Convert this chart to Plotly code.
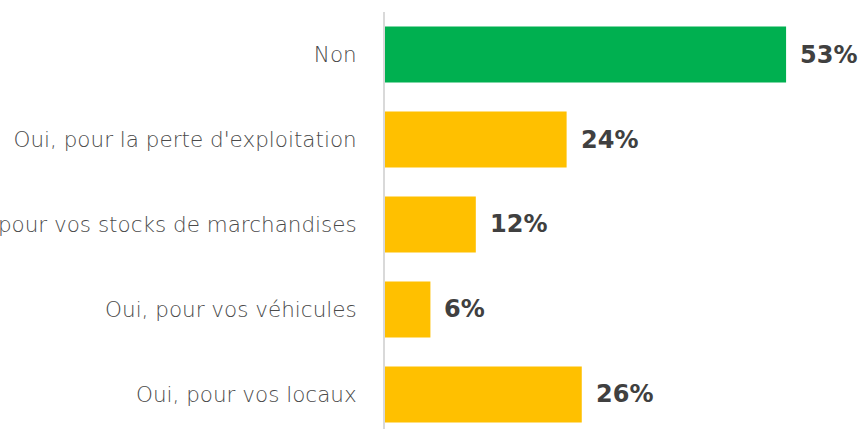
import plotly.graph_objects as go

categories = [
    "Oui, pour vos locaux",
    "Oui, pour vos véhicules",
    "Oui, pour vos stocks de marchandises",
    "Oui, pour la perte d'exploitation",
    "Non",
]
values = [26, 6, 12, 24, 53]
labels = ["26%", "6%", "12%", "24%", "53%"]
colors = ["#FFC000", "#FFC000", "#FFC000", "#FFC000", "#00B050"]

fig = go.Figure(
    go.Bar(
        x=values,
        y=categories,
        orientation="h",
        marker=dict(color=colors, line=dict(width=0)),
        width=0.66,
        hoverinfo="skip",
    )
)

# value labels to the right of each bar
for cat, val, lab in zip(categories, values, labels):
    fig.add_annotation(
        x=val, y=cat, text=lab, showarrow=False,
        xanchor="left", yanchor="middle", xshift=12,
        font=dict(family="DejaVu Sans", size=24, color="#404040", weight="bold"),
    )

fig.update_layout(
    width=861,
    height=429,
    margin=dict(l=385, r=0, t=12, b=0),
    paper_bgcolor="white",
    plot_bgcolor="white",
    showlegend=False,
    xaxis=dict(
        range=[0, 62.9], visible=False, showgrid=False, zeroline=False,
    ),
    yaxis=dict(
        type="category",
        range=[-0.406, 4.5],
        showline=True, linecolor="#D9D9D9", linewidth=2,
        showgrid=False, zeroline=False,
        ticks="", ticklabelstandoff=22,
        tickfont=dict(family="DejaVu Sans", size=21.5, color="#4a4a4a", weight=300),
        automargin=False,
    ),
)

# page body has an 8px default margin, drop it so the chart sits at 0,0
fig.write_html(
    "out.html",
    config={"displayModeBar": False},
    post_script="document.body.style.margin='0';",
)
